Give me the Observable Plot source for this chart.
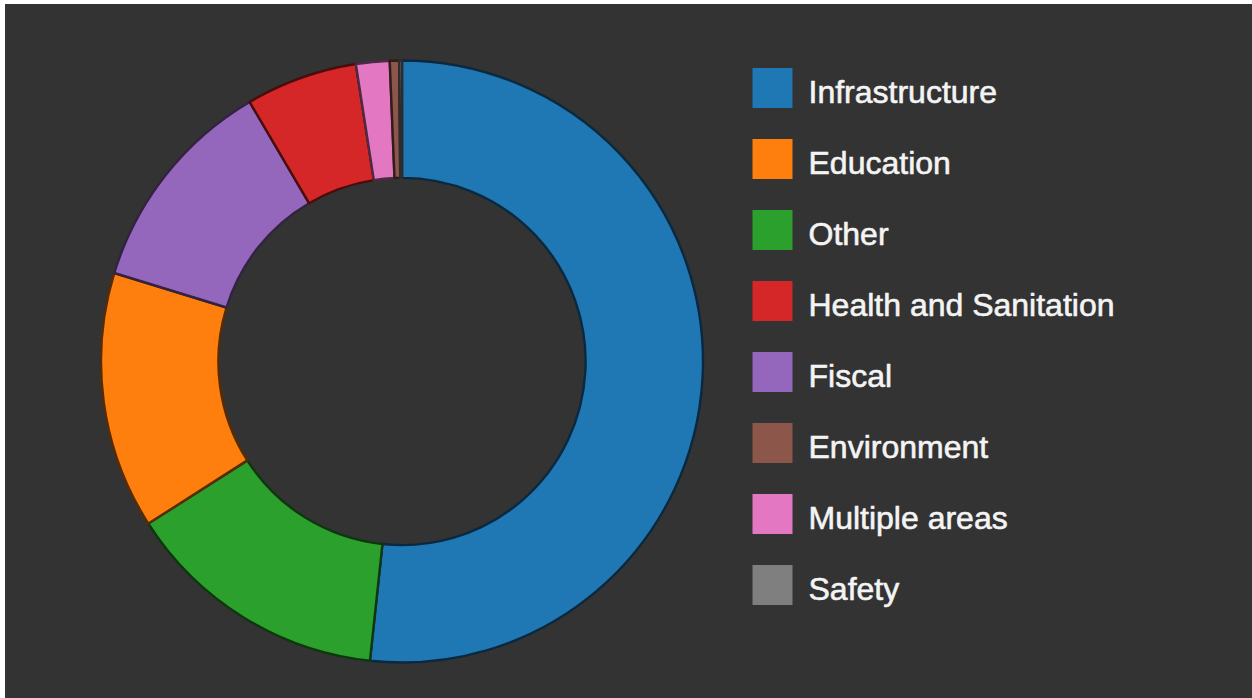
<!DOCTYPE html>
<html>
<head>
<meta charset="utf-8">
<script src="https://cdn.jsdelivr.net/npm/d3@7"></script>
<script src="https://cdn.jsdelivr.net/npm/@observablehq/plot@0.6"></script>
<style>
  html, body { margin: 0; padding: 0; background: #ffffff; }
  #frame { position: absolute; left: 5px; top: 4px; width: 1247px; height: 694px; background: #333333; }
  #donut { position: absolute; left: 0; top: 0; }
  #legend { position: absolute; left: 740px; top: 0; }
</style>
</head>
<body>
<div id="frame"></div>
<div id="donut"></div>
<div id="legend"></div>
<script>
// Legend order / colour mapping
const categories = ["Infrastructure", "Education", "Other", "Health and Sanitation", "Fiscal", "Environment", "Multiple areas", "Safety"];
const colors = ["#1f77b4", "#ff7f0e", "#2ca02c", "#d62728", "#9467bd", "#8c564b", "#e377c2", "#7f7f7f"];

// Slice order (clockwise from 12 o'clock) and shares in percent
const sliceOrder = ["Infrastructure", "Other", "Education", "Fiscal", "Health and Sanitation", "Multiple areas", "Environment", "Safety"];
const shares = [51.7, 14.25, 13.8, 11.8, 6.0, 1.8, 0.5, 0.15];

const data = sliceOrder.map((category, i) => ({category, share: shares[i]}));
const font = "'Liberation Sans', Arial, Helvetica, sans-serif";

const colorFallback = Plot.scale({color: {type: "ordinal", domain: categories, range: colors}});

const donut = Plot.plot({
  width: 720,
  height: 698,
  marginLeft: 101,
  marginRight: 17,
  marginTop: 60,
  marginBottom: 35,
  style: {background: "transparent"},
  x: {domain: [-1, 1], axis: null},
  y: {domain: [-1, 1], axis: null},
  color: {type: "ordinal", domain: categories, range: colors},
  marks: [
    (index, scales, values, dimensions) => {
      const cx = scales.x(0), cy = scales.y(0);
      const R = Math.abs(scales.x(1) - scales.x(0));
      const color = scales.color || ((v) => colorFallback.apply(v));
      const arcs = d3.pie().sort(null).value(d => d.share)(data);
      const arc = d3.arc().innerRadius(R * 0.61).outerRadius(R);
      const g = d3.create("svg:g").attr("transform", `translate(${cx},${cy})`);
      g.selectAll("path")
        .data(arcs)
        .join("path")
        .attr("d", arc)
        .attr("fill", d => color(d.data.category))
        .attr("stroke", d => d3.color(color(d.data.category)).darker(3).formatHex())
        .attr("stroke-width", 2.4)
        .attr("stroke-linejoin", "round");
      return g.node();
    }
  ]
});
document.getElementById("donut").append(donut);

const legend = Plot.plot({
  width: 512,
  height: 698,
  marginLeft: 12,
  marginRight: 0,
  marginTop: 49,
  marginBottom: 75,
  style: {background: "transparent"},
  y: {type: "band", domain: categories, padding: 0, axis: null},
  color: {type: "ordinal", domain: categories, range: colors},
  marks: [
    Plot.dot(categories, {y: d => d, fill: d => d, symbol: "square", r: 22.57, frameAnchor: "left", dx: 20, stroke: null}),
    Plot.text(categories, {
      y: d => d, text: d => d, frameAnchor: "left", dx: 56, dy: 5,
      textAnchor: "start", fill: "#f4f4f4", stroke: "#f4f4f4", strokeWidth: 0.6,
      fontSize: 32, fontFamily: font
    })
  ]
});
document.getElementById("legend").append(legend);
</script>
</body>
</html>
